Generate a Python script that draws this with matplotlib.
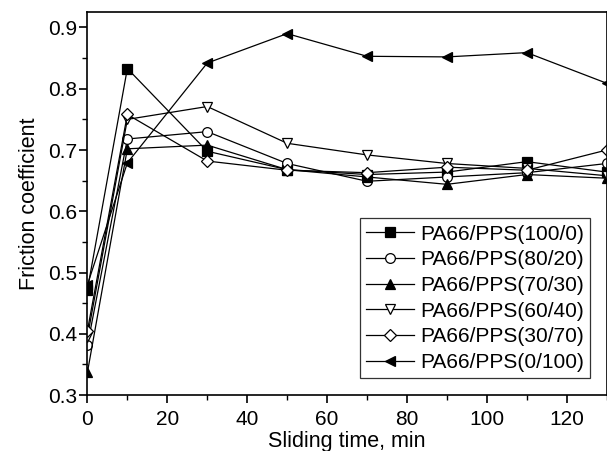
import matplotlib
matplotlib.use("Agg")
import matplotlib.pyplot as plt
from matplotlib.ticker import MultipleLocator

plt.rcParams['font.family'] = ['Liberation Sans', 'DejaVu Sans']

# Sliding time (min)
time = [0, 10, 30, 50, 70, 90, 110, 130]

# Friction coefficient for each blend
pps_100_0 = [0.472, 0.833, 0.698, 0.668, 0.660, 0.664, 0.681, 0.664]
pps_80_20 = [0.381, 0.718, 0.730, 0.678, 0.649, 0.656, 0.663, 0.678]
pps_70_30 = [0.337, 0.702, 0.708, 0.668, 0.656, 0.644, 0.660, 0.654]
pps_60_40 = [0.395, 0.750, 0.771, 0.711, 0.692, 0.678, 0.670, 0.658]
pps_30_70 = [0.405, 0.758, 0.682, 0.667, 0.663, 0.672, 0.667, 0.700]
pps_0_100 = [0.480, 0.679, 0.842, 0.890, 0.853, 0.852, 0.859, 0.809]

series = [
    (pps_100_0, 's', 'k', 'PA66/PPS(100/0)'),
    (pps_80_20, 'o', 'w', 'PA66/PPS(80/20)'),
    (pps_70_30, '^', 'k', 'PA66/PPS(70/30)'),
    (pps_60_40, 'v', 'w', 'PA66/PPS(60/40)'),
    (pps_30_70, 'D', 'w', 'PA66/PPS(30/70)'),
    (pps_0_100, '<', 'k', 'PA66/PPS(0/100)'),
]

fig = plt.figure(figsize=(6.07, 4.51), dpi=100)
ax = fig.add_axes([0.144, 0.124, 0.8555, 0.849])

for vals, m, fc, lab in series:
    ms = 6 if m == 'D' else 7
    ax.plot(time, vals, color='k', lw=0.9, marker=m, markersize=ms,
            markerfacecolor=fc, markeredgecolor='k', markeredgewidth=0.9,
            label=lab)

ax.set_xlim(0, 130)
ax.set_ylim(0.3, 0.925)
ax.xaxis.set_major_locator(MultipleLocator(20))
ax.xaxis.set_minor_locator(MultipleLocator(10))
ax.yaxis.set_major_locator(MultipleLocator(0.1))
ax.yaxis.set_minor_locator(MultipleLocator(0.05))
ax.tick_params(which='major', direction='out', length=6, width=1.2, labelsize=15)
ax.tick_params(which='minor', direction='out', length=3.5, width=1.0)
ax.tick_params(axis='x', which='major', pad=5)
ax.tick_params(axis='y', which='major', pad=1.5)
for s in ax.spines.values():
    s.set_linewidth(1.2)

ax.set_xlabel('Sliding time, min', fontsize=15.5, labelpad=1)
ax.set_ylabel('Friction coefficient', fontsize=15.5, labelpad=6)

leg = ax.legend(loc='lower right', bbox_to_anchor=(0.968, 0.044), fontsize=15,
                frameon=True, fancybox=False, edgecolor='k', handlelength=2.3,
                handletextpad=0.3, labelspacing=0.32, borderpad=0.3,
                borderaxespad=0)
leg.get_frame().set_linewidth(0.9)

fig.savefig('out.png', dpi=100)
